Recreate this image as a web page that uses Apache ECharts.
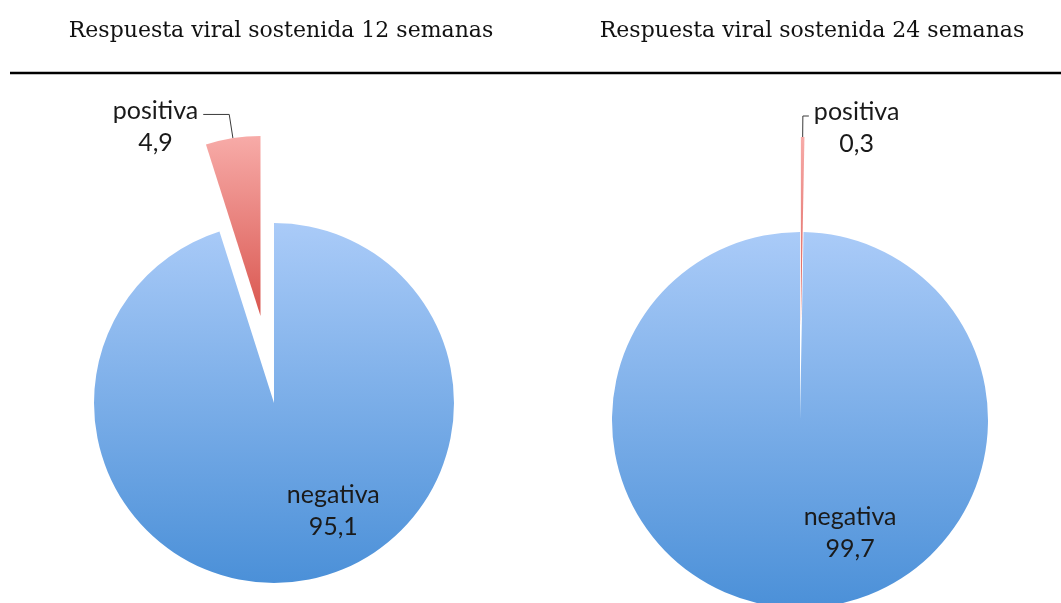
<!DOCTYPE html>
<html>
<head>
<meta charset="utf-8">
<script src="https://cdn.jsdelivr.net/npm/echarts@6/dist/echarts.min.js"></script>
<style>
html,body{margin:0;padding:0;background:#fff;}
#chart{width:1061px;height:603px;}
</style>
</head>
<body>
<div id="chart"></div>
<script>
const categories = ['negativa', 'positiva'];
const values12 = [95.1, 4.9];
const values24 = [99.7, 0.3];
const titles = ['Respuesta viral sostenida 12 semanas', 'Respuesta viral sostenida 24 semanas'];

const chart = echarts.init(document.getElementById('chart'), null, {renderer: 'canvas'});

function grad(name) {
  if (name === 'positiva') {
    return new echarts.graphic.LinearGradient(0, 0, 0, 1, [
      {offset: 0, color: '#f7aba8'},
      {offset: 1, color: '#d9564f'}
    ]);
  }
  return new echarts.graphic.LinearGradient(0, 0, 0, 1, [
    {offset: 0, color: '#aacbf8'},
    {offset: 1, color: '#4b90d8'}
  ]);
}

const labelFont = 'Lato';
const rich = {
  a: {align: 'center', fontFamily: labelFont, fontSize: 25, lineHeight: 32, color: '#1a1a1a'}
};
function fmt(p) {
  return '{a|' + p.name + '}\n{a|' + String(p.value).replace('.', ',') + '}';
}

function makeData(vals, order, insideOffset, lineLen, lineLen2) {
  return order.map(function (i) {
    const name = categories[i];
    const item = {name: name, value: vals[i], itemStyle: {color: grad(name)}};
    if (name === 'positiva') {
      item.selected = true;
      item.label = {show: true, position: 'outside', formatter: fmt, rich: rich, padding: [24, 0, 0, 0], distanceToLabelLine: 5};
      item.labelLine = {show: true, length: lineLen, length2: lineLen2, lineStyle: {color: '#3a3a3a', width: 1}};
    } else {
      item.label = {show: true, position: 'inside', formatter: fmt, rich: rich, offset: insideOffset};
      item.labelLine = {show: false};
    }
    return item;
  });
}

const option = {
  animation: false,
  backgroundColor: '#ffffff',
  title: [
    {text: titles[0], left: 276, top: 15, textAlign: 'center',
     textStyle: {fontFamily: 'DejaVu Serif', fontSize: 22, fontWeight: 'normal', color: '#111'}},
    {text: titles[1], left: 807, top: 15, textAlign: 'center',
     textStyle: {fontFamily: 'DejaVu Serif', fontSize: 22, fontWeight: 'normal', color: '#111'}}
  ],
  graphic: [
    {type: 'line', shape: {x1: 10, y1: 73, x2: 1061, y2: 73}, style: {stroke: '#000', lineWidth: 2.5}}
  ],
  series: [
    {
      type: 'pie',
      center: [274, 403],
      radius: 180,
      startAngle: 90,
      clockwise: true,
      selectedMode: 'multiple',
      selectedOffset: 88,
      avoidLabelOverlap: false,
      emphasis: {disabled: true},
      data: makeData(values12, [0, 1], [45, 16], 24, 26)
    },
    {
      type: 'pie',
      center: [800, 420],
      radius: 188,
      startAngle: 90,
      clockwise: true,
      selectedMode: 'multiple',
      selectedOffset: 95,
      avoidLabelOverlap: false,
      emphasis: {disabled: true},
      data: makeData(values24, [1, 0], [51, 16], 21, 6)
    }
  ]
};
chart.setOption(option);
</script>
</body>
</html>
